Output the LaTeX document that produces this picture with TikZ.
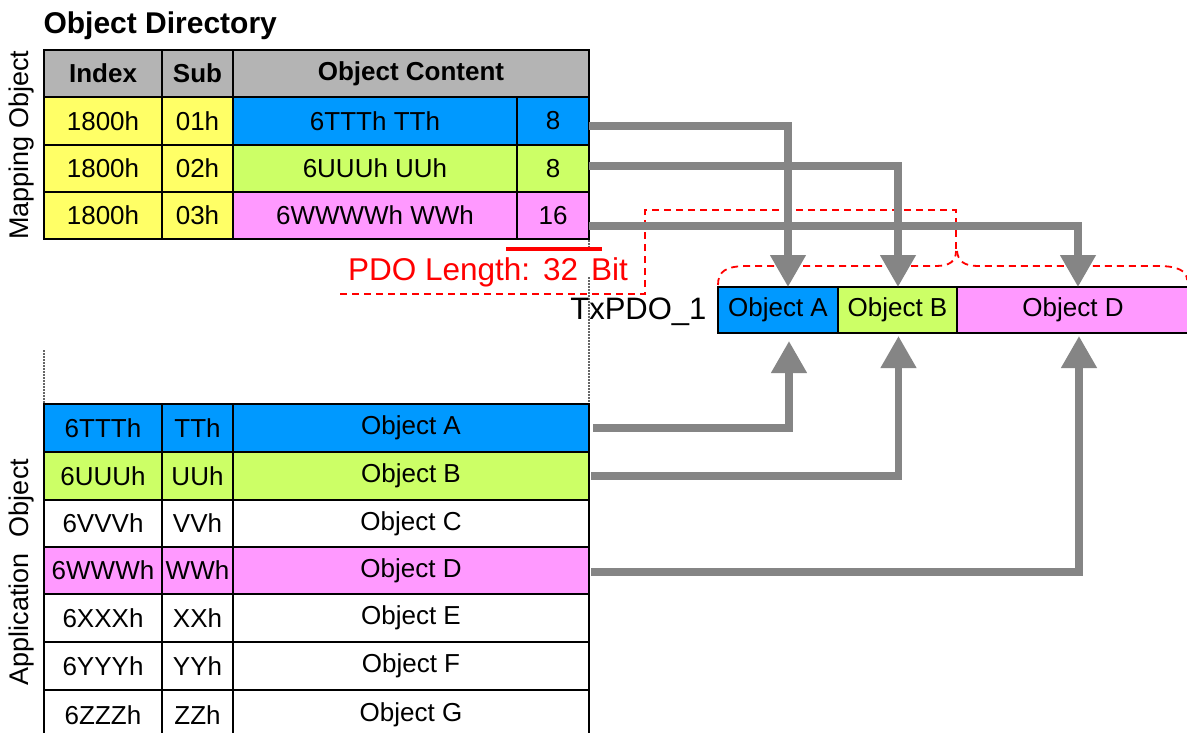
\documentclass[tikz,border=0pt]{standalone}
\usepackage{fontspec}
\setmainfont{Liberation Sans}
\usetikzlibrary{arrows.meta}
\definecolor{cblue}{HTML}{0099FF}
\definecolor{cgreen}{HTML}{CCFF66}
\definecolor{cpink}{HTML}{FF99FF}
\definecolor{cyellow}{HTML}{FFFF66}
\definecolor{chead}{HTML}{B4B4B4}
\definecolor{agray}{HTML}{858585}
\definecolor{cred}{HTML}{FF0000}
\begin{document}
\begin{tikzpicture}[x=1pt,y=-1pt,
  cell/.style={draw=black, line width=2.5pt, inner sep=0pt, outer sep=0pt,
    font=\fontsize{26}{28}\selectfont, text=black, anchor=north west},
  hcell/.style={cell, fill=chead, font=\bfseries\fontsize{26}{28}\selectfont},
  garrow/.style={draw=agray, line width=7.5pt, line join=miter,
    -{Triangle[width=34pt,length=32pt]}},
  reddash/.style={draw=cred, line width=1.8pt, dash pattern=on 7pt off 5pt},
  dotline/.style={draw=black!60, line width=1.5pt, dash pattern=on 1.5pt off 1.5pt},
  sidelabel/.style={font=\fontsize{27}{29}\selectfont, rotate=90, anchor=center}
]
\useasboundingbox (0,0) rectangle (1187,733);
\fill[white] (0,0) rectangle (1187,733);

% title
\node[font=\bfseries\fontsize{30}{32}\selectfont, anchor=west] (title) at (40,26) {Object Directory};
\node[sidelabel] (mapl) at (22,145) {Mapping Object};
\node[sidelabel] (appl) at (22,572) {Application\hspace{16pt}Object};

% dotted guide lines
\draw[dotline] (589,240) -- (589,248);
\draw[dotline] (589,277) -- (589,404);
\draw[dotline] (44,350) -- (44,404);

% top table header
\node[hcell, minimum width=118, minimum height=47] (h1) at (44,50) {Index};
\node[hcell, minimum width=71, minimum height=47] (h2) at (162,50) {Sub};
\node[hcell, minimum width=356, minimum height=47] (h3) at (233,50) {Object Content};

% top table rows
\node[cell, fill=cyellow, minimum width=118, minimum height=48] (t1i) at (44,97) {1800h};
\node[cell, fill=cyellow, minimum width=71, minimum height=48] (t1s) at (162,97) {01h};
\node[cell, fill=cblue, minimum width=284, minimum height=48] (t1c) at (233,97) {6TTTh TTh};
\node[cell, fill=cblue, minimum width=72, minimum height=48] (t1n) at (517,97) {8};

\node[cell, fill=cyellow, minimum width=118, minimum height=47] (t2i) at (44,145) {1800h};
\node[cell, fill=cyellow, minimum width=71, minimum height=47] (t2s) at (162,145) {02h};
\node[cell, fill=cgreen, minimum width=284, minimum height=47] (t2c) at (233,145) {6UUUh UUh};
\node[cell, fill=cgreen, minimum width=72, minimum height=47] (t2n) at (517,145) {8};

\node[cell, fill=cyellow, minimum width=118, minimum height=47] (t3i) at (44,192) {1800h};
\node[cell, fill=cyellow, minimum width=71, minimum height=47] (t3s) at (162,192) {03h};
\node[cell, fill=cpink, minimum width=284, minimum height=47] (t3c) at (233,192) {6WWWWh WWh};
\node[cell, fill=cpink, minimum width=72, minimum height=47] (t3n) at (517,192) {16};

% bottom table
\node[cell, fill=cblue, minimum width=118, minimum height=48] (bA1) at (44,404) {6TTTh};
\node[cell, fill=cblue, minimum width=71, minimum height=48] (bA2) at (162,404) {TTh};
\node[cell, fill=cblue, minimum width=356, minimum height=48] (bA3) at (233,404) {Object A};

\node[cell, fill=cgreen, minimum width=118, minimum height=48] (bB1) at (44,452) {6UUUh};
\node[cell, fill=cgreen, minimum width=71, minimum height=48] (bB2) at (162,452) {UUh};
\node[cell, fill=cgreen, minimum width=356, minimum height=48] (bB3) at (233,452) {Object B};

\node[cell, fill=white, minimum width=118, minimum height=47] (bC1) at (44,500) {6VVVh};
\node[cell, fill=white, minimum width=71, minimum height=47] (bC2) at (162,500) {VVh};
\node[cell, fill=white, minimum width=356, minimum height=47] (bC3) at (233,500) {Object C};

\node[cell, fill=cpink, minimum width=118, minimum height=47] (bD1) at (44,547) {6WWWh};
\node[cell, fill=cpink, minimum width=71, minimum height=47] (bD2) at (162,547) {WWh};
\node[cell, fill=cpink, minimum width=356, minimum height=47] (bD3) at (233,547) {Object D};

\node[cell, fill=white, minimum width=118, minimum height=48] (bE1) at (44,594) {6XXXh};
\node[cell, fill=white, minimum width=71, minimum height=48] (bE2) at (162,594) {XXh};
\node[cell, fill=white, minimum width=356, minimum height=48] (bE3) at (233,594) {Object E};

\node[cell, fill=white, minimum width=118, minimum height=48] (bF1) at (44,642) {6YYYh};
\node[cell, fill=white, minimum width=71, minimum height=48] (bF2) at (162,642) {YYh};
\node[cell, fill=white, minimum width=356, minimum height=48] (bF3) at (233,642) {Object F};

\node[cell, fill=white, minimum width=118, minimum height=50] (bG1) at (44,690) {6ZZZh};
\node[cell, fill=white, minimum width=71, minimum height=50] (bG2) at (162,690) {ZZh};
\node[cell, fill=white, minimum width=356, minimum height=50] (bG3) at (233,690) {Object G};

% TxPDO
\node[font=\fontsize{31}{33}\selectfont, anchor=east] (tx) at (710,312) {TxPDO\_1};
\node[cell, fill=cblue, minimum width=120, minimum height=46] (oA) at (718,287) {Object A};
\node[cell, fill=cgreen, minimum width=119, minimum height=46] (oB) at (838,287) {Object B};
\node[cell, fill=cpink, minimum width=232, minimum height=46] (oD) at (957,287) {Object D};

% PDO length annotation
\draw[cred, line width=3.5pt] (506,249) -- (602,249);
\node[font=\fontsize{31.5}{33}\selectfont, text=cred, anchor=center, inner sep=0pt] (pdo) at (488,272)
  {PDO Length:\hspace{13pt}32\hspace{13pt}Bit};
\draw[reddash] (340,294) -- (645,294) -- (645,210) -- (956,210) -- (956,250);
\draw[reddash] (718,285) .. controls (718,271) and (726,266) .. (748,266) -- (936,266)
  .. controls (950,266) and (956,261) .. (956,251);
\draw[reddash] (957,251) .. controls (958,261) and (964,266) .. (978,266) -- (1158,266)
  .. controls (1178,266) and (1187,271) .. (1187,280);

% arrows into TxPDO from mapping
\draw[garrow] ([yshift=-5pt]t1n.east) -| ([xshift=10pt]oA.north);
\draw[garrow] ([yshift=2.5pt]t2n.east) -| ([xshift=0.5pt]oB.north);
\draw[garrow] ([yshift=-10.5pt]t3n.east) -| ([xshift=5pt]oD.north);

% arrows from application objects
\draw[garrow] ([xshift=4pt]bA3.east) -| ([xshift=11pt,yshift=-8pt]oA.south);
\draw[garrow] ([xshift=2pt]bB3.east) -| ([xshift=1pt,yshift=-3pt]oB.south);
\draw[garrow] ([xshift=2pt,yshift=-1.5pt]bD3.east) -| ([xshift=6pt,yshift=-3pt]oD.south);
\end{tikzpicture}
\end{document}
